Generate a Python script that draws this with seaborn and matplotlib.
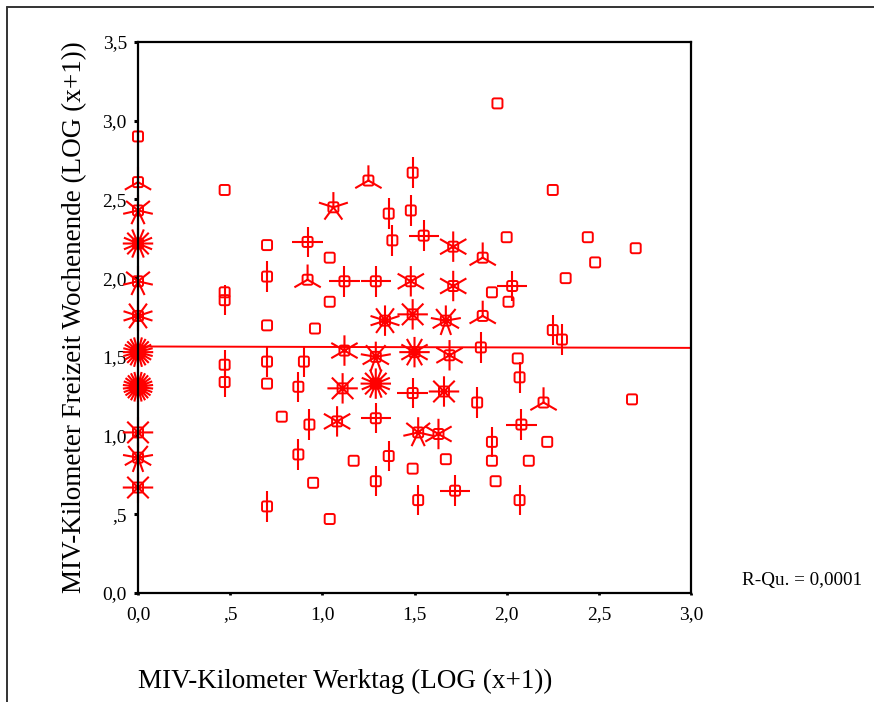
import numpy as np
import matplotlib
matplotlib.use("Agg")
import matplotlib.pyplot as plt
from matplotlib.path import Path
from matplotlib.lines import Line2D
import seaborn as sns
import pandas as pd

# Sunflower data: coordinate pairs and number of cases at each pair
x_vals = [0.00, 0.00, 0.00, 0.00, 0.00, 0.00, 0.00, 0.00, 0.00, 0.00, 0.00,
          0.47, 0.47, 0.47, 0.47, 0.47,
          0.70, 0.70, 0.70, 0.70, 0.70, 0.70,
          0.78, 0.87, 0.87, 0.90, 0.92, 0.92, 0.93, 0.95, 0.96,
          1.04, 1.04, 1.04, 1.06, 1.08, 1.12, 1.12, 1.11, 1.17,
          1.25, 1.29, 1.29, 1.29, 1.29, 1.29, 1.34, 1.36, 1.38, 1.36,
          1.49, 1.48, 1.48, 1.49, 1.50, 1.49, 1.52, 1.49, 1.52, 1.55,
          1.63, 1.67, 1.66, 1.67, 1.69, 1.71, 1.71, 1.72,
          1.87, 1.87, 1.86, 1.84, 1.92, 1.92, 1.92, 1.94, 1.95,
          2.00, 2.01, 2.03, 2.06, 2.07, 2.07, 2.08, 2.12,
          2.20, 2.22, 2.25, 2.25, 2.30, 2.32,
          2.44, 2.48, 2.68, 2.70]
y_vals = [2.90, 2.61, 2.43, 2.22, 1.98, 1.76, 1.53, 1.31, 1.02, 0.86, 0.67,
          2.56, 1.91, 1.86, 1.45, 1.34,
          2.21, 2.01, 1.70, 1.47, 1.33, 0.55,
          1.12, 1.31, 0.88, 1.47, 2.23, 1.99, 1.07, 0.70, 1.68,
          2.13, 1.85, 0.47, 2.45, 1.09, 1.98, 1.54, 1.30, 0.84,
          2.62, 1.98, 1.50, 1.33, 1.11, 0.71, 1.73, 2.41, 2.24, 0.87,
          2.67, 2.43, 1.98, 1.77, 1.53, 1.27, 1.02, 0.79, 0.59, 2.27,
          1.01, 0.85, 1.28, 1.73, 1.51, 1.95, 2.20, 0.65,
          2.13, 1.76, 1.56, 1.21, 1.91, 0.96, 0.84, 0.71, 3.11,
          2.26, 1.85, 1.95, 1.49, 1.37, 0.59, 1.07, 0.84,
          1.21, 0.96, 2.56, 1.67, 1.61, 2.00,
          2.26, 2.10, 1.23, 2.19]
n_cases = [1, 3, 7, 16, 7, 10, 24, 26, 8, 9, 8,
           1, 1, 2, 2, 2,
           1, 2, 1, 2, 1, 2,
           1, 2, 2, 2, 4, 3, 2, 1, 1,
           1, 1, 1, 5, 6, 4, 6, 8, 1,
           3, 4, 9, 16, 4, 2, 10, 2, 2, 2,
           2, 2, 6, 8, 12, 4, 7, 1, 2, 4,
           6, 1, 8, 9, 6, 6, 6, 4,
           3, 3, 2, 2, 1, 2, 1, 1, 1,
           1, 1, 4, 1, 2, 2, 4, 1,
           3, 1, 1, 2, 2, 1,
           1, 1, 1, 1]

# Linear fit line
fit_intercept = 1.566
fit_slope = -0.003
r_squared = "0,0001"

x_ticks = [0.0, 0.5, 1.0, 1.5, 2.0, 2.5, 3.0]
x_tick_labels = ["0,0", ",5", "1,0", "1,5", "2,0", "2,5", "3,0"]
y_ticks = [0.0, 0.5, 1.0, 1.5, 2.0, 2.5, 3.0, 3.5]
y_tick_labels = ["0,0", ",5", "1,0", "1,5", "2,0", "2,5", "3,0", "3,5"]

df = pd.DataFrame({"x": x_vals, "y": y_vals, "n": n_cases})

sns.set_theme(style="white")
plt.rcParams["font.family"] = ["Liberation Serif", "DejaVu Serif"]
plt.rcParams["text.color"] = "black"
plt.rcParams["axes.labelcolor"] = "black"
plt.rcParams["xtick.color"] = "black"
plt.rcParams["ytick.color"] = "black"

RED = "#ff0000"


def rounded_square(r=0.35, steps=6):
    verts = []
    corners = [(1 - r, 1 - r, 0), (-1 + r, 1 - r, 90), (-1 + r, -1 + r, 180), (1 - r, -1 + r, 270)]
    for cx, cy, a0 in corners:
        for t in np.linspace(a0, a0 + 90, steps):
            verts.append((cx + r * np.cos(np.radians(t)), cy + r * np.sin(np.radians(t))))
    verts.append(verts[0])
    codes = [Path.MOVETO] + [Path.LINETO] * (len(verts) - 2) + [Path.CLOSEPOLY]
    return Path(verts, codes)


def petals(n):
    verts, codes = [], []
    for k in range(n):
        a = np.radians(90 + 360.0 * k / n)
        verts += [(0, 0), (np.cos(a), np.sin(a))]
        codes += [Path.MOVETO, Path.LINETO]
    return Path(verts, codes)


fig = plt.figure(figsize=(8.74, 7.02), dpi=100)
ax = fig.add_axes([138 / 874, 1 - 593 / 702, 553 / 874, 551 / 702])
ax.set_xlim(0, 3.0)
ax.set_ylim(0, 3.5)

# Base markers: one rounded square per coordinate pair
sns.scatterplot(data=df, x="x", y="y", marker=rounded_square(), s=52,
                facecolor="none", edgecolor=RED, linewidth=1.4,
                ax=ax, clip_on=False, zorder=3, legend=False)

# Petals: one line per case where more than one case shares a position
for n, grp in df[df["n"] > 1].groupby("n"):
    sns.scatterplot(data=grp, x="x", y="y", marker=petals(int(n)), s=480,
                    facecolor="none", edgecolor=RED, linewidth=1.5,
                    ax=ax, clip_on=False, zorder=3, legend=False)

xs = np.array([0.0, 3.0])
ax.plot(xs, fit_intercept + fit_slope * xs, color=RED, lw=1.4, zorder=2)

ax.set_xticks(x_ticks)
ax.set_xticklabels(x_tick_labels)
ax.set_yticks(y_ticks)
ax.set_yticklabels(y_tick_labels)
ax.tick_params(axis="y", direction="out", length=3, width=2.2, color="black",
               labelcolor="black", labelsize=14, pad=5, left=True)
ax.tick_params(axis="x", direction="out", length=1.5, width=2, color="black",
               labelcolor="black", labelsize=14, pad=8, bottom=True)
for sp in ax.spines.values():
    sp.set_color("black")
    sp.set_linewidth(1.6)
    sp.set_zorder(4)

ax.set_xlabel("MIV-Kilometer Werktag (LOG (x+1))", fontsize=19.5, loc="left", color="black")
ax.xaxis.set_label_coords(0.0, -0.138)
ax.set_ylabel("MIV-Kilometer Freizeit Wochenende (LOG (x+1))", fontsize=19.5, loc="bottom",
              color="black")
ax.yaxis.set_label_coords(-0.092, 0.0)

fig.text(742 / 874, 1 - 580 / 702, "R-Qu. = " + r_squared, fontsize=13.8,
         ha="left", va="center", color="black")

# Outer frame (top and left edges)
fig.add_artist(Line2D([7 / 874, 1.0], [1 - 7 / 702, 1 - 7 / 702], transform=fig.transFigure,
                      color="#333333", lw=1.4))
fig.add_artist(Line2D([7 / 874, 7 / 874], [1 - 7 / 702, 0.0], transform=fig.transFigure,
                      color="#333333", lw=1.4))

fig.savefig("out.png", dpi=100)
